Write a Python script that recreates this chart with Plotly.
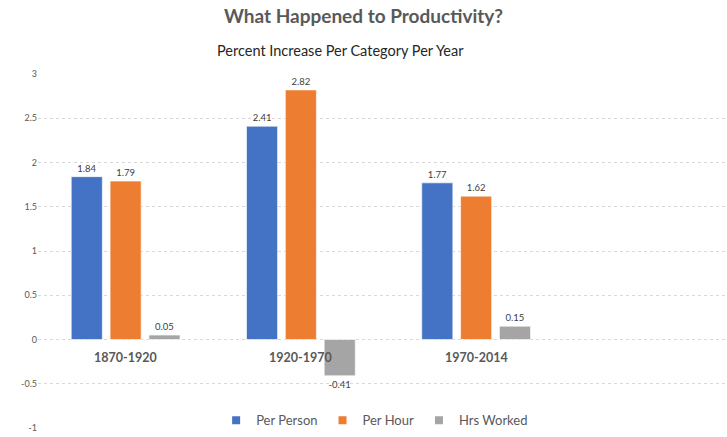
import plotly.graph_objects as go

categories = ["1870-1920", "1920-1970", "1970-2014"]
per_person = [1.84, 2.41, 1.77]
per_hour = [1.79, 2.82, 1.62]
hrs_worked = [0.05, -0.41, 0.15]
series_names = ["Per Person", "Per Hour", "Hrs Worked"]
colors = ["#4472C4", "#ED7D31", "#A5A5A5"]
y_ticks = [-1, -0.5, 0, 0.5, 1, 1.5, 2, 2.5, 3]

FONT = "Lato, Open Sans, sans-serif"

fig = go.Figure()
for name, vals, col in zip(series_names, [per_person, per_hour, hrs_worked], colors):
    fig.add_trace(go.Bar(
        x=categories, y=vals, name=name, showlegend=False,
        marker=dict(color=col, line=dict(color="rgba(255,255,255,0.6)", width=1)),
        text=[f"{v:.2f}" for v in vals], textposition="outside",
        textfont=dict(size=9.5, color="#404040", family=FONT),
        cliponaxis=False,
    ))
# legend entries with small square symbols
for name, col in zip(series_names, colors):
    fig.add_trace(go.Scatter(x=[None], y=[None], mode="markers", name=name,
                             marker=dict(symbol="square", size=8, color=col)))

for c in categories:
    fig.add_annotation(x=c, y=0, xref="x", yref="y", text=f"<b>{c}</b>",
                       showarrow=False, yanchor="top", yshift=-8,
                       font=dict(size=12.5, color="#595959", family=FONT))

fig.update_layout(
    width=727, height=437,
    margin=dict(l=38, r=2, t=74, b=4),
    paper_bgcolor="white", plot_bgcolor="white",
    barmode="group", bargap=0.335, bargroupgap=0.2,
    title=dict(text="<b>What Happened to Productivity?</b>", x=0.5, xanchor="center",
               y=0.962, yanchor="middle", font=dict(size=19, color="#595959", family=FONT)),
    legend=dict(orientation="h", x=0.49, xanchor="center", y=0.022, yanchor="middle",
                bgcolor="rgba(255,255,255,1)", itemwidth=30,
                font=dict(size=13, color="#595959", family=FONT), traceorder="normal"),
    showlegend=True,
    xaxis=dict(showticklabels=False, showgrid=False, zeroline=False, showline=False,
               range=[-0.5, 3.42], automargin=False),
    yaxis=dict(range=[-1, 3], tickvals=y_ticks, ticktext=[str(v) for v in y_ticks],
               showgrid=True, gridcolor="#D9D9D9", griddash="dot", gridwidth=1,
               zeroline=False, showline=False, automargin=False,
               tickfont=dict(size=9, color="#595959", family=FONT)),
)
fig.add_annotation(text="Percent Increase Per Category Per Year", xref="paper", yref="paper",
                   x=0.5, y=1.0 + (74 - 50) / 359, yanchor="middle", showarrow=False, xshift=-41,
                   font=dict(size=14.5, color="#262626", family=FONT))

fig.write_html("out.html", config={"displayModeBar": False},
               post_script="document.body.style.margin='0';")
